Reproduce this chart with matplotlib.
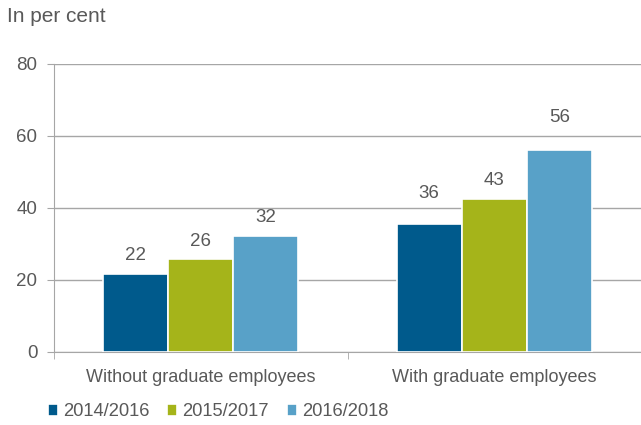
import matplotlib
matplotlib.use("Agg")
import matplotlib.pyplot as plt
from matplotlib.transforms import offset_copy
import numpy as np

plt.rcParams['font.family'] = ['Liberation Sans', 'DejaVu Sans']

categories = ["Without graduate employees", "With graduate employees"]
series_names = ["2014/2016", "2015/2017", "2016/2018"]
values = {
    "2014/2016": [21.6, 35.6],
    "2015/2017": [25.7, 42.6],
    "2016/2018": [32.1, 56.2],
}
colors = ["#005a8c", "#a5b41a", "#58a1c8"]
yticks = [0, 20, 40, 60, 80]

# vertical gap (points) between each bar top and its value label
label_gaps = {
    "2014/2016": [13.5, 21.5],
    "2015/2017": [13.0, 13.0],
    "2016/2018": [13.5, 23.5],
}

text_color = "#595959"
grid_color = "#a6a6a6"

fig = plt.figure(figsize=(6.41, 4.25), dpi=100)
ax = fig.add_axes([54 / 641, 1 - 352 / 425, 1 - 54 / 641, (352 - 64) / 425])

x = np.arange(len(categories))
width = 0.222
for i, name in enumerate(series_names):
    pos = x + (i - 1) * width
    bars = ax.bar(pos, values[name], width, color=colors[i], edgecolor="white",
                  linewidth=1.2, zorder=3, label=name)
    for b, v, g in zip(bars, values[name], label_gaps[name]):
        tr = offset_copy(ax.transData, fig=fig, x=0, y=g, units="points")
        ax.text(b.get_x() + b.get_width() / 2, v, f"{v:.0f}", transform=tr,
                ha="center", va="center", fontsize=13.5, color=text_color)

ax.set_xlim(-0.5, 1.5)
ax.set_ylim(0, 80)
ax.set_yticks(yticks)
ax.yaxis.grid(True, color=grid_color, linewidth=1)
ax.set_axisbelow(True)

for s in ["top", "right"]:
    ax.spines[s].set_visible(False)
ax.spines["left"].set_color(grid_color)
ax.spines["bottom"].set_color(grid_color)

ax.set_xticks(x)
ax.set_xticklabels(categories)
ax.tick_params(axis="x", length=0, labelsize=13, labelcolor=text_color, pad=12)
ax.set_xticks([-0.5, 0.5, 1.5], minor=True)
ax.tick_params(axis="x", which="minor", length=5, color=grid_color)
ax.tick_params(axis="y", length=5, color=grid_color, labelsize=13.5,
               labelcolor=text_color, pad=7)

fig.text(7 / 641, 1 - 17 / 425, "In per cent", fontsize=15, color=text_color,
         ha="left", va="center")

handles, labels = ax.get_legend_handles_labels()
leg = fig.legend(handles, labels, loc="center left",
                 bbox_to_anchor=(31 / 641, 1 - 412 / 425), ncol=3, frameon=False,
                 fontsize=13.2, handlelength=0.55, handleheight=0.55,
                 handletextpad=0.28, columnspacing=0.98, labelcolor=text_color)

fig.savefig("out.png", dpi=100)
